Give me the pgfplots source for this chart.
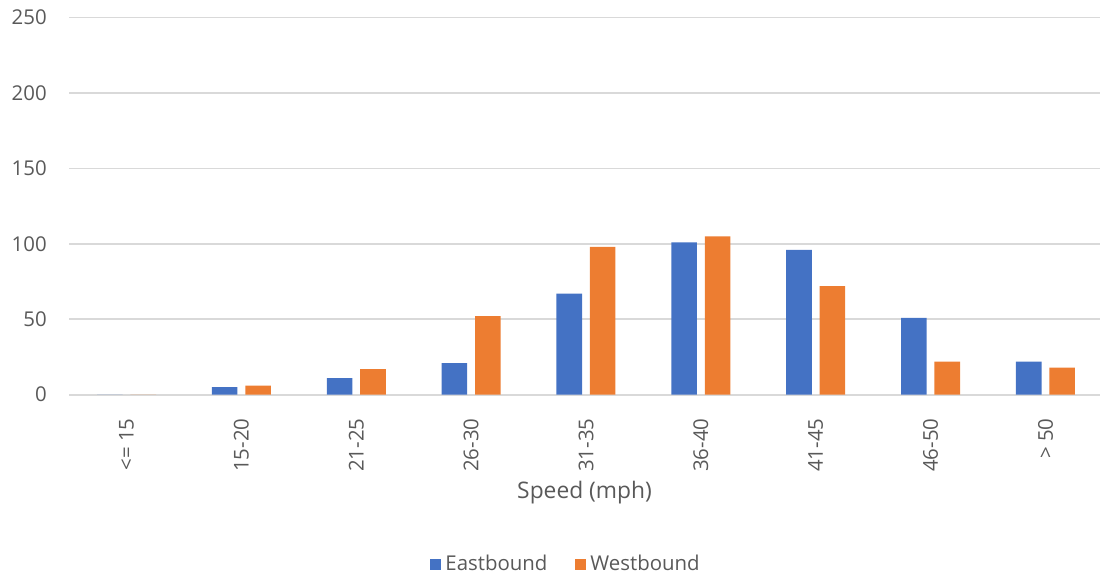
\documentclass[border=0pt]{standalone}
\usepackage{pgfplots}
\pgfplotsset{compat=1.18}
\usepackage{fontspec}
\setmainfont{Open Sans}
\definecolor{eastc}{HTML}{4472C4}
\definecolor{westc}{HTML}{ED7D31}
\definecolor{txtc}{HTML}{595959}
\definecolor{gridc}{HTML}{D9D9D9}
\begin{document}
\begin{tikzpicture}[font=\fontsize{10.2bp}{12bp}\selectfont]
\useasboundingbox (-34.55bp,-92.15bp) rectangle (515.45bp,197.35bp);
\begin{axis}[
  at={(0,0)}, anchor=south west,
  scale only axis,
  width=515.45bp, height=188.6bp,
  xmin=-0.5, xmax=8.475,
  ymin=0, ymax=250,
  ytick={0,50,100,150,200,250},
  xtick={0,1,2,3,4,5,6,7,8},
  xticklabels={{<= 15},{15-20},{21-25},{26-30},{31-35},{36-40},{41-45},{46-50},{> 50}},
  ymajorgrids, grid style={gridc, line width=0.8bp},
  axis line style={draw=none},
  tick style={draw=none},
  /pgf/number format/assume math mode=true,
  ticklabel style={text=txtc, font=\fontsize{10.2bp}{12bp}\selectfont},
  yticklabel style={anchor=east, inner sep=0pt, xshift=-11bp},
  xticklabel style={inner sep=0pt, yshift=-7.5bp, rotate=90, anchor=east},
  xlabel={Speed (mph)},
  xlabel style={text=txtc, font=\fontsize{11.4bp}{13bp}\selectfont, at={(axis description cs:0.5,0)}, anchor=center, yshift=-49bp},
  ybar=0pt,
  bar width=12.8bp,
  bar shift auto=false,
  legend columns=2,
  legend style={draw=none, fill=none, at={(axis description cs:0.483,-0.45)}, anchor=center,
    text=txtc, font=\fontsize{10.2bp}{12bp}\selectfont,
    /tikz/every even column/.append style={column sep=12bp}},
  legend image code/.code={\fill[#1] (0bp,-2.75bp) rectangle (5.5bp,2.75bp);},
]
\addplot[fill=eastc, draw=none, bar shift=-8.35bp] coordinates {
  (0,0) (1,5) (2,11) (3,21) (4,67) (5,101) (6,96) (7,51) (8,22)};
\addlegendentry{Eastbound}
\addplot[fill=westc, draw=none, bar shift=8.35bp] coordinates {
  (0,0) (1,6) (2,17) (3,52) (4,98) (5,105) (6,72) (7,22) (8,18)};
\addlegendentry{Westbound}
\end{axis}
\end{tikzpicture}
\end{document}
